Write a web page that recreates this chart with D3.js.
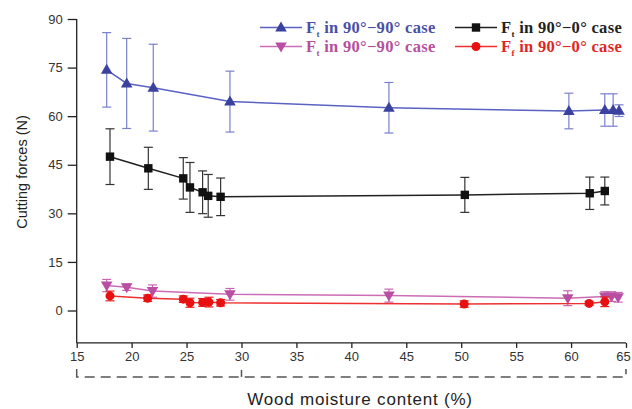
<!DOCTYPE html>
<html><head><meta charset="utf-8">
<script src="https://cdn.jsdelivr.net/npm/d3@7/dist/d3.min.js"></script>
<style>body{margin:0;background:#fff}</style>
</head><body>
<svg id="c" width="632" height="409"></svg>
<script>
// ---- data ----
const blueX   = [17.73, 19.55, 21.97, 28.95, 43.42, 59.8, 63.07, 63.83, 64.37];
const blueY   = [74.3, 70.1, 68.8, 64.5, 62.6, 61.6, 61.9, 61.9, 61.7];
const blueErr = [11.5, 13.9, 13.4, 9.4, 7.8, 5.5, 5.0, 5.0, 1.8];

const blackX   = [18.03, 21.52, 24.7, 25.31, 26.46, 26.97, 28.1, 50.33, 61.7, 63.07];
const blackY   = [47.5, 43.9, 40.8, 38.0, 36.5, 35.4, 35.1, 35.7, 36.2, 36.9];
const blackErr = [8.6, 6.5, 6.4, 7.7, 6.6, 6.6, 5.8, 5.4, 5.0, 4.3];

const pinkX   = [17.73, 19.55, 21.9, 28.95, 43.42, 59.7, 63.07, 63.68, 64.28];
const pinkY   = [7.7, 7.2, 6.0, 5.0, 4.6, 3.8, 4.3, 4.3, 4.1];
const pinkErr = [1.9, 1.0, 1.9, 1.8, 2.0, 2.3, 1.5, 1.5, 1.5];

const redX   = [18.03, 21.46, 24.7, 25.31, 26.46, 27.04, 28.1, 50.27, 61.64, 63.07];
const redY   = [4.5, 3.8, 3.5, 2.4, 2.5, 2.6, 2.4, 2.0, 2.2, 2.7];
const redErr = [1.5, 1.0, 1.0, 1.4, 1.2, 1.5, 1.0, 1.0, 0.6, 1.5];

const xTicks = [15, 20, 25, 30, 35, 40, 45, 50, 55, 60, 65];
const yTicks = [0, 15, 30, 45, 60, 75, 90];
const xTitle = "Wood moisture content (%)";
const yTitle = "Cutting forces (N)";
const legendNames = [
  ["F", "t", " in 90°−90° case"],
  ["F", "t", " in 90°−0° case"],
  ["F", "t", " in 90°−90° case"],
  ["F", "f", " in 90°−0° case"]
];

// ---- chart ----
const svg = d3.select("#c");
const x = d3.scaleLinear().domain([15, 65]).range([76.7, 626]);
const y = d3.scaleLinear().domain([-10, 90]).range([342.9, 19]);

const axisFont = "'Liberation Sans', Arial, sans-serif";

// Y axis
const gy = svg.append("g").attr("transform", `translate(${x(15)},0)`)
  .call(d3.axisLeft(y).tickValues(yTicks).tickSize(9).tickPadding(5));
gy.select(".domain").attr("stroke", "#222").attr("stroke-width", 1.3).attr("d", `M-0,${y(90)}V${y(-10)}`);
gy.selectAll(".tick line").attr("stroke", "#222").attr("stroke-width", 1.3);
gy.selectAll(".tick text").attr("font-family", axisFont).attr("font-size", 13).attr("fill", "#333");

// X axis
const gx = svg.append("g").attr("transform", `translate(0,${y(-10)})`)
  .call(d3.axisBottom(x).tickValues(xTicks).tickSize(5).tickPadding(4));
gx.select(".domain").attr("stroke", "#222").attr("stroke-width", 1.3).attr("d", `M${x(15)},0H${x(65)}`);
gx.selectAll(".tick line").attr("stroke", "#222").attr("stroke-width", 1.3);
gx.selectAll(".tick text").attr("font-family", axisFont).attr("font-size", 13).attr("fill", "#333")
  .attr("dx", d => d === 65 ? -3 : 0);

// dashed bracket below the x axis
const bTop = y(-10) + 26, bBot = y(-10) + 34;
svg.append("path")
  .attr("d", `M${x(15)},${bTop}V${bBot}H${x(65)}V${bTop}`)
  .attr("fill", "none").attr("stroke", "#555").attr("stroke-width", 1.5)
  .attr("stroke-dasharray", "10,6");
svg.append("line").attr("x1", x(30)).attr("x2", x(30)).attr("y1", bTop + 1).attr("y2", bBot)
  .attr("stroke", "#555").attr("stroke-width", 1.5);

// titles
svg.append("text").attr("x", 360).attr("y", 405).attr("text-anchor", "middle")
  .attr("font-family", axisFont).attr("font-size", 17).attr("letter-spacing", 0.8)
  .attr("fill", "#222").text(xTitle);
svg.append("text").attr("transform", "translate(27,172) rotate(-90)").attr("text-anchor", "middle")
  .attr("font-family", axisFont).attr("font-size", 14.5).attr("fill", "#222").text(yTitle);

// series
const series = [
  {xs: blueX, ys: blueY, es: blueErr, line: "#5a62c2", mark: "#3b419f", err: "#7a80cc", shape: "up", text: "#4a50a6"},
  {xs: blackX, ys: blackY, es: blackErr, line: "#222", mark: "#111", err: "#333", shape: "square", text: "#222"},
  {xs: pinkX, ys: pinkY, es: pinkErr, line: "#cc6cb6", mark: "#b94fa2", err: "#c767b2", shape: "down", text: "#b5509d"},
  {xs: redX, ys: redY, es: redErr, line: "#ee3030", mark: "#e81010", err: "#e82020", shape: "circle", text: "#e02525"}
];

function drawMarker(g, shape, color, cx, cy) {
  if (shape === "up") {
    g.append("path").attr("d", `M${cx},${cy - 6}L${cx + 5.8},${cy + 4}L${cx - 5.8},${cy + 4}Z`).attr("fill", color);
  } else if (shape === "down") {
    g.append("path").attr("d", `M${cx},${cy + 6}L${cx + 5.8},${cy - 4}L${cx - 5.8},${cy - 4}Z`).attr("fill", color);
  } else if (shape === "square") {
    g.append("rect").attr("x", cx - 4.2).attr("y", cy - 4.2).attr("width", 8.4).attr("height", 8.4).attr("fill", color);
  } else {
    g.append("circle").attr("cx", cx).attr("cy", cy).attr("r", 4.5).attr("fill", color);
  }
}

const lineGen = d3.line().x(d => x(d[0])).y(d => y(d[1]));
series.forEach(s => {
  const pts = s.xs.map((v, i) => [v, s.ys[i], s.es[i]]);
  const g = svg.append("g");
  g.append("path").attr("d", lineGen(pts)).attr("fill", "none")
    .attr("stroke", s.line).attr("stroke-width", 1.5);
  pts.forEach(p => {
    const cx = x(p[0]), t = y(p[1] + p[2]), b = y(p[1] - p[2]);
    g.append("line").attr("x1", cx).attr("x2", cx).attr("y1", t).attr("y2", b)
      .attr("stroke", s.err).attr("stroke-width", 1.2);
    [t, b].forEach(yy => g.append("line").attr("x1", cx - 4.5).attr("x2", cx + 4.5)
      .attr("y1", yy).attr("y2", yy).attr("stroke", s.err).attr("stroke-width", 1.2));
  });
  pts.forEach(p => drawMarker(g, s.shape, s.mark, x(p[0]), y(p[1])));
});

// legend
const legPos = [[260, 27.5], [455, 27.5], [260, 46.5], [455, 46.5]];
series.forEach((s, i) => {
  const [lx, ly] = legPos[i];
  const g = svg.append("g");
  g.append("line").attr("x1", lx).attr("x2", lx + 42).attr("y1", ly).attr("y2", ly)
    .attr("stroke", s.line).attr("stroke-width", 1.5);
  drawMarker(g, s.shape, s.mark, lx + 21, ly);
  const t = g.append("text").attr("x", lx + 46).attr("y", ly + 5)
    .attr("font-family", "'Liberation Serif', 'Times New Roman', serif")
    .attr("font-size", 16.5).attr("font-weight", "bold").attr("letter-spacing", 0.3).attr("fill", s.text);
  const nm = legendNames[i];
  t.append("tspan").text(nm[0]);
  t.append("tspan").attr("dy", 4).attr("font-size", 9).text(nm[1]);
  t.append("tspan").attr("dy", -4).text(nm[2]);
});
</script>
</body></html>
